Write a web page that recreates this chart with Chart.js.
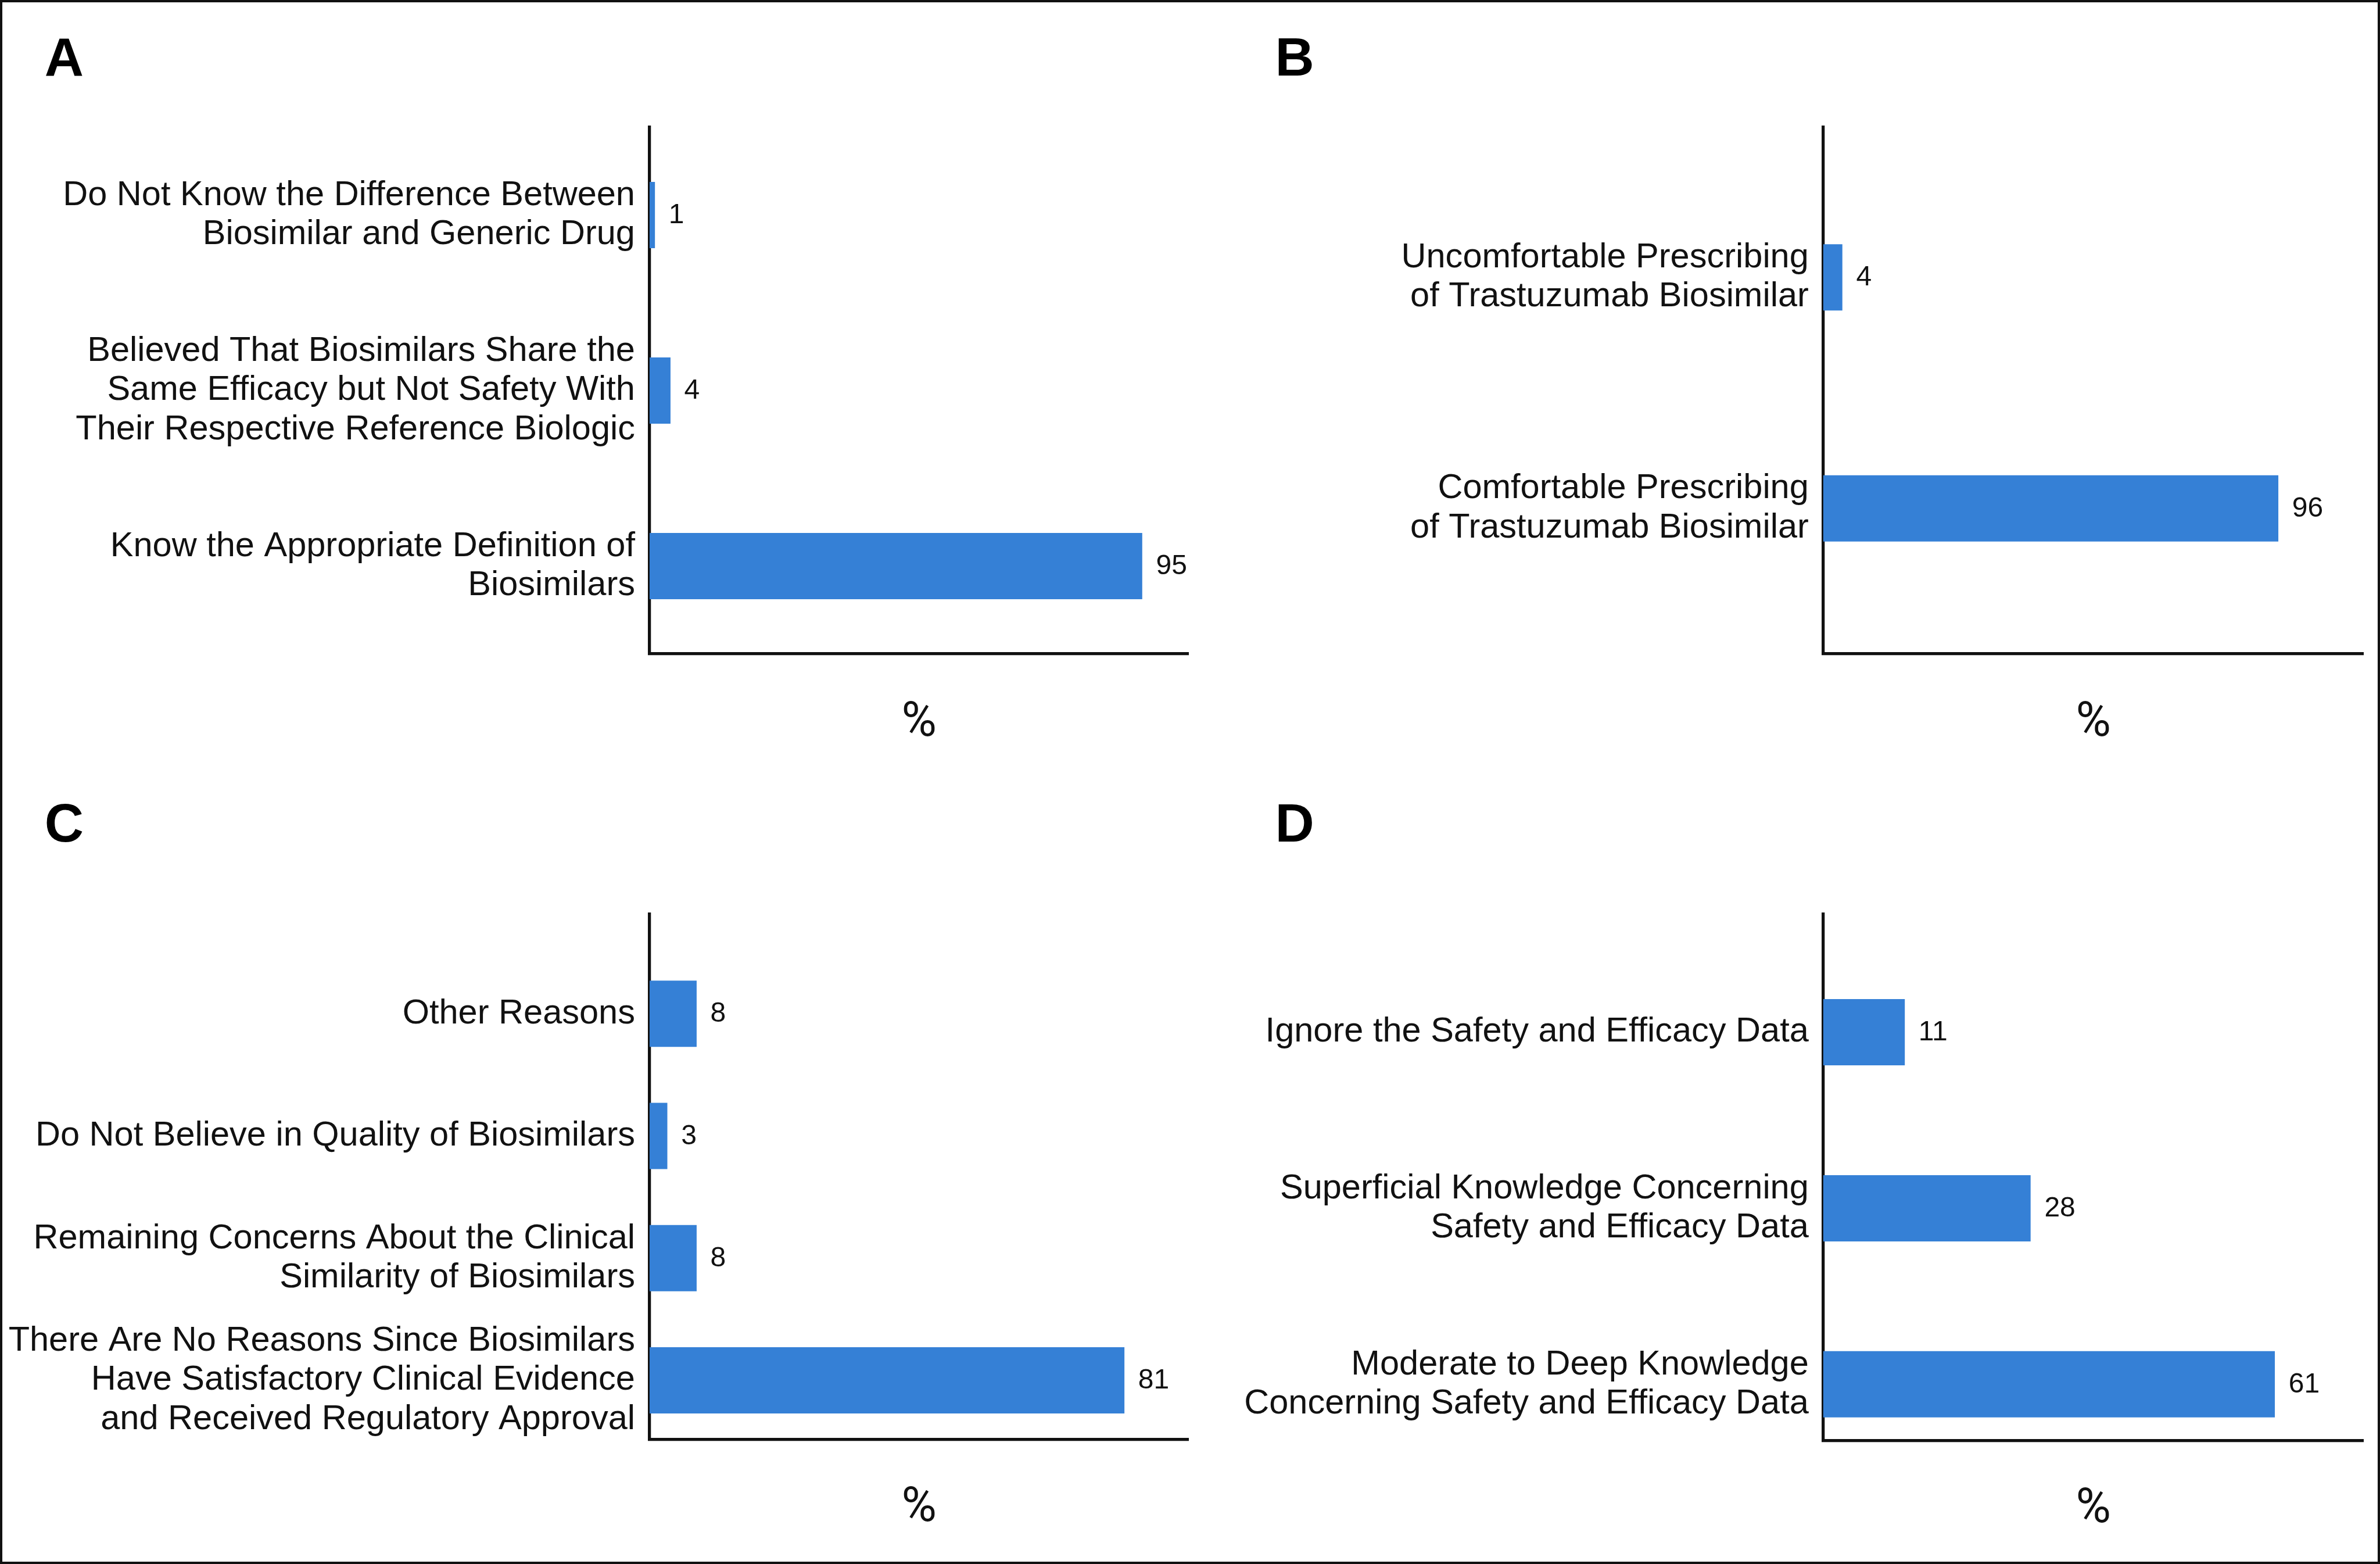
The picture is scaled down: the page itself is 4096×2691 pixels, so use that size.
<!DOCTYPE html>
<html>
<head>
<meta charset="utf-8">
<script src="https://cdn.jsdelivr.net/npm/chart.js@4.4.1/dist/chart.umd.min.js"></script>
<style>
  html, body { margin: 0; padding: 0; background: #fff; }
  #page { position: relative; width: 4096px; height: 2691px; overflow: hidden; background: #fff; }
  #frame { position: absolute; left: 0; top: 0; right: 0; bottom: 0; box-sizing: border-box; border: 4px solid #111; pointer-events: none; }
  canvas { position: absolute; }
  .letter { position: absolute; font-family: 'Liberation Sans', Arial, sans-serif; font-weight: bold; line-height: 1; color: #000; }
</style>
</head>
<body>
<div id="page"><div id="frame"></div></div>
<script>
const S = 0.96; // reference -> window scale

// Panel A
const labelsA = [
  ['Do Not Know the Difference Between', 'Biosimilar and Generic Drug'],
  ['Believed That Biosimilars Share the', 'Same Efficacy but Not Safety With', 'Their Respective Reference Biologic'],
  ['Know the Appropriate Definition of', 'Biosimilars']
];
const valuesA = [1, 4, 95];

// Panel B
const labelsB = [
  ['Uncomfortable Prescribing', 'of Trastuzumab Biosimilar'],
  ['Comfortable Prescribing', 'of Trastuzumab Biosimilar']
];
const valuesB = [4, 96];

// Panel C
const labelsC = [
  ['Other Reasons'],
  ['Do Not Believe in Quality of Biosimilars'],
  ['Remaining Concerns About the Clinical', 'Similarity of Biosimilars'],
  ['There Are No Reasons Since Biosimilars', 'Have Satisfactory Clinical Evidence', 'and Received Regulatory Approval']
];
const valuesC = [8, 3, 8, 81];

// Panel D
const labelsD = [
  ['Ignore the Safety and Efficacy Data'],
  ['Superficial Knowledge Concerning', 'Safety and Efficacy Data'],
  ['Moderate to Deep Knowledge', 'Concerning Safety and Efficacy Data']
];
const valuesD = [11, 28, 61];

const axisTitle = '%';

// layout, in reference pixels: box = canvas x,y,w,h ; area = plot left,top,right,bottom
const panels = [
  { letter: 'A', labels: labelsA, values: valuesA, xMax: 104, yMin: -0.5, yMax: 2.5,
    box: [0, 0, 2132, 1401], area: [1164.5, 228, 2131, 1172], letterPos: [80, 67] },
  { letter: 'B', labels: labelsB, values: valuesB, xMax: 114, yMin: -0.65, yMax: 1.63,
    box: [2132, 0, 2133, 1401], area: [3268.5, 228, 4237, 1172], letterPos: [2286, 67] },
  { letter: 'C', labels: labelsC, values: valuesC, xMax: 92, yMin: -0.817, yMax: 3.484,
    box: [0, 1401, 2132, 1401], area: [1164.5, 1638, 2131, 2580], letterPos: [80, 1440] },
  { letter: 'D', labels: labelsD, values: valuesD, xMax: 73, yMin: -0.672, yMax: 2.32,
    box: [2132, 1401, 2133, 1401], area: [3268.5, 1638, 4237, 2582], letterPos: [2286, 1440] }
];

const barColor = '#3580d6';
const inkColor = '#111';

function valueLabels(values) {
  return {
    id: 'valueLabels',
    afterDatasetsDraw(chart) {
      const ctx = chart.ctx;
      ctx.save();
      ctx.font = (50 * S) + 'px "Liberation Sans", Arial, sans-serif';
      ctx.fillStyle = inkColor;
      ctx.textBaseline = 'middle';
      ctx.textAlign = 'left';
      chart.getDatasetMeta(0).data.forEach((bar, i) => {
        ctx.fillText(String(values[i]), bar.x + 25 * S, bar.y + 1);
      });
      ctx.restore();
    }
  };
}

const page = document.getElementById('page');

panels.forEach(p => {
  const bx = Math.round(p.box[0] * S), by = Math.round(p.box[1] * S);
  const W = Math.round(p.box[2] * S), H = Math.round(p.box[3] * S);
  const L = p.area[0] * S - bx, T = p.area[1] * S - by;
  const R = p.area[2] * S - bx, B = p.area[3] * S - by;

  const canvas = document.createElement('canvas');
  canvas.width = W;
  canvas.height = H;
  canvas.style.left = bx + 'px';
  canvas.style.top = by + 'px';
  canvas.style.width = W + 'px';
  canvas.style.height = H + 'px';
  page.appendChild(canvas);

  const letter = document.createElement('div');
  letter.className = 'letter';
  letter.textContent = p.letter;
  letter.style.fontSize = (97 * S) + 'px';
  letter.style.left = (p.letterPos[0] * S) + 'px';
  letter.style.top = ((p.letterPos[1] - 0.13 * 97) * S) + 'px';
  page.appendChild(letter);

  const titleSize = 86 * S;
  const titleLH = titleSize * 1.2;

  new Chart(canvas, {
    type: 'bar',
    data: {
      datasets: [{
        data: p.values.map((v, i) => ({ x: v, y: i })),
        backgroundColor: barColor,
        barThickness: 118 * S
      }]
    },
    options: {
      indexAxis: 'y',
      responsive: false,
      animation: false,
      layout: { padding: { left: 0, top: T, right: W - R, bottom: 0 } },
      plugins: {
        legend: { display: false },
        tooltip: { enabled: false }
      },
      scales: {
        x: {
          type: 'linear',
          position: 'bottom',
          min: 0,
          max: p.xMax,
          grid: { display: false, drawTicks: false },
          ticks: { display: false },
          border: { display: true, color: inkColor, width: 5.5 * S },
          title: {
            display: true,
            text: axisTitle,
            color: inkColor,
            font: { family: 'Roboto', size: titleSize },
            padding: { top: 0, bottom: (H - B) - 125 * S - titleLH / 2 }
          },
          afterFit: s => { s.height = H - B; }
        },
        y: {
          type: 'linear',
          position: 'left',
          reverse: true,
          offset: false,
          min: p.yMin,
          max: p.yMax,
          grid: { display: false, drawTicks: false, offset: false },
          border: { display: true, color: inkColor, width: 5.5 * S },
          afterBuildTicks: s => { s.ticks = p.labels.map((_, i) => ({ value: i })); },
          ticks: {
            autoSkip: false,
            color: inkColor,
            padding: 26 * S,
            font: { family: 'Liberation Sans', size: 62 * S, lineHeight: 1.13 },
            callback: v => p.labels[v]
          },
          afterFit: s => { s.width = L; }
        }
      }
    },
    plugins: [valueLabels(p.values)]
  });
});
</script>
</body>
</html>
